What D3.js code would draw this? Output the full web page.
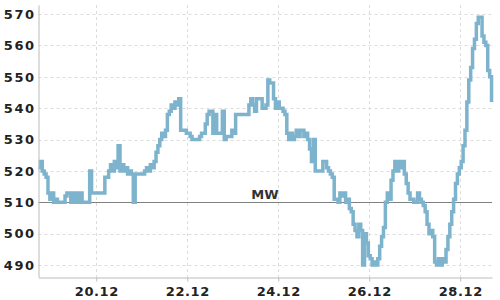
<!DOCTYPE html>
<html><head><meta charset="utf-8">
<script src="https://cdn.jsdelivr.net/npm/d3@7"></script>
<style>
html,body{margin:0;padding:0;background:#fff;}
svg{display:block;}
</style></head>
<body><svg id="chart" width="500" height="300"></svg>
<script>
// Data: hourly values starting 18.12 17:30
const startTime = new Date(2023, 11, 18, 17, 30);
const endTime = new Date(2023, 11, 28, 16, 45);
const values = [
 521,523,520,519,518,513,511,513,510,511,
 510,510,510,510,512,513,513,510,513,510,
 513,510,513,510,510,510,510,520,513,513,
 513,513,513,513,513,518,518,520,522,520,
 523,521,528,520,522,520,521,519,520,519,
 510,519,519,519,519,519,520,521,520,522,
 521,523,526,528,530,532,531,533,538,539,
 541,540,542,541,543,533,533,533,532,532,
 531,530,530,530,530,531,532,532,535,538,
 539,539,532,538,532,532,532,539,530,531,
 531,531,533,532,538,538,538,538,538,538,
 538,541,543,541,539,543,543,543,540,540,
 541,549,548,548,543,540,542,540,540,539,
 538,532,530,532,530,531,533,531,533,533,
 531,532,530,527,523,530,520,520,520,520,
 523,523,521,520,519,518,511,511,510,513,
 512,513,510,511,508,507,503,501,499,503,
 501,490,500,497,493,492,490,491,490,492,
 496,499,502,510,513,511,517,520,523,520,
 523,521,523,519,516,513,511,511,510,510,
 513,511,510,509,507,503,500,501,499,491,
 490,492,490,492,491,495,499,503,507,511,
 516,519,521,523,528,533,542,549,553,559,
 562,567,569,569,563,561,560,552,550,542
];
const yTicks = [490, 500, 510, 520, 530, 540, 550, 560, 570];
const xTickDates = [new Date(2023,11,20), new Date(2023,11,22), new Date(2023,11,24), new Date(2023,11,26), new Date(2023,11,28)];
const refValue = 510;
const refLabel = "MW";
const refLabelTime = new Date(2023, 11, 23, 17, 0);

const data = values.map((v, i) => ({t: new Date(startTime.getTime() + i * 3600000), v}));

const svg = d3.select("#chart");
const pLeft = 38.5, pRight = 492, pTop = 5, pBottom = 277;
const x = d3.scaleTime().domain([startTime, endTime]).range([pLeft, pRight]);
const y = d3.scaleLinear().domain([486.2, 572.9]).range([pBottom, pTop]);

// grid
const grid = svg.append("g");
grid.selectAll("line.h").data(yTicks).enter().append("line")
  .attr("x1", pLeft).attr("x2", pRight)
  .attr("y1", d => Math.round(y(d)) + 0.5).attr("y2", d => Math.round(y(d)) + 0.5)
  .attr("stroke", "#dcdcdc").attr("stroke-dasharray", "3,3");
grid.selectAll("line.v").data(xTickDates).enter().append("line")
  .attr("x1", d => Math.round(x(d)) + 0.5).attr("x2", d => Math.round(x(d)) + 0.5)
  .attr("y1", pTop).attr("y2", pBottom)
  .attr("stroke", "#dcdcdc").attr("stroke-dasharray", "3,3");

// reference line
svg.append("line")
  .attr("x1", pLeft).attr("x2", pRight)
  .attr("y1", Math.round(y(refValue)) + 0.5).attr("y2", Math.round(y(refValue)) + 0.5)
  .attr("stroke", "#808080").attr("stroke-width", 1);
svg.append("text")
  .attr("x", x(refLabelTime)).attr("y", y(refValue) - 3.5)
  .attr("text-anchor", "middle")
  .attr("font-family", "DejaVu Sans").attr("font-size", 13).attr("font-weight", "bold")
  .attr("fill", "#333").text(refLabel);

// line
const line = d3.line().x(d => x(d.t)).y(d => y(d.v)).curve(d3.curveStepAfter);
svg.append("path").datum(data)
  .attr("d", line).attr("fill", "none")
  .attr("stroke", "#7db3cc").attr("stroke-width", 3.5);

// axes
const xAxis = d3.axisBottom(x).tickValues(xTickDates).tickFormat(d3.timeFormat("%d.%m")).tickSize(4).tickSizeOuter(0);
const gx = svg.append("g").attr("transform", `translate(0,${pBottom + 0.5})`).call(xAxis);
gx.select(".domain").attr("stroke", "#bbb");
gx.selectAll(".tick line").attr("stroke", "#bbb");
gx.selectAll(".tick text").attr("font-family", "DejaVu Sans").attr("font-size", 13)
  .attr("font-weight", "bold").attr("fill", "#222").attr("dy", "0.9em").attr("letter-spacing", "0.6px");

const yAxis = d3.axisLeft(y).tickValues(yTicks).tickSize(0).tickSizeOuter(0).tickPadding(3);
const gy = svg.append("g").attr("transform", `translate(${pLeft},0)`).call(yAxis);
gy.select(".domain").attr("stroke", "#bbb");
gy.selectAll(".tick text").attr("font-family", "DejaVu Sans").attr("font-size", 13)
  .attr("font-weight", "bold").attr("fill", "#222").attr("letter-spacing", "1.5px");
</script>
</body></html>
